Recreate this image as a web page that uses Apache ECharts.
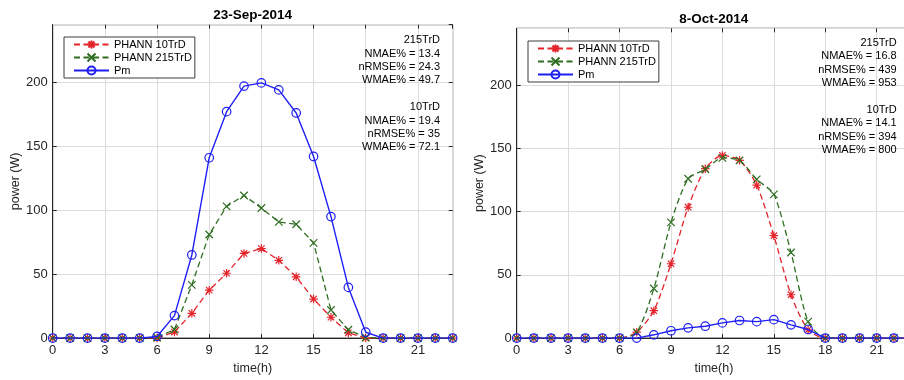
<!DOCTYPE html>
<html>
<head>
<meta charset="utf-8">
<script src="https://cdn.jsdelivr.net/npm/echarts@6/dist/echarts.min.js"></script>
<style>
  html, body { margin: 0; padding: 0; background: #fff; overflow: hidden; }
  /* canvas is slightly wider than the window so the second box runs off the right edge */
  #chart { width: 912px; height: 380px; }
</style>
</head>
<body>
<div id="chart"></div>
<script>
// Hourly time axis (h)
const hours = [0,1,2,3,4,5,6,7,8,9,10,11,12,13,14,15,16,17,18,19,20,21,22,23];

// 23-Sep-2014: forecasts and measured power (W)
const sep10TrD  = [0,0,0,0,0,0,0,4.7,19.4,37.5,50.7,66.2,70,60.8,47.9,30.5,16.3,4.1,0,0,0,0,0,0];
const sep215TrD = [0,0,0,0,0,0,0.5,6.7,41.6,81,103,111.5,101.7,90.8,89,74.5,22,6.5,0.5,0,0,0,0,0];
const sepPm     = [0,0,0,0,0,0,1.3,17.6,65,141,177,197,199.5,194,176,142,95,39.6,4.6,0,0,0,0,0];

// 8-Oct-2014: forecasts and measured power (W)
const oct10TrD  = [0,0,0,0,0,0,0,4.7,21.7,58.8,103.5,134,144.5,140.6,121,81,34.3,6.5,0,0,0,0,0,0];
const oct215TrD = [0,0,0,0,0,0,0,4.5,39.2,91.5,126,133.5,142.5,140.6,125.5,113.7,67.7,13,0,0,0,0,0,0];
const octPm     = [0,0,0,0,0,0,0,0,2.6,5.8,8.1,9.4,12,13.9,13,14.6,10.5,6.8,0,0,0,0,0,0];

// Error metrics shown in each panel
const panelTitles = ['23-Sep-2014', '8-Oct-2014'];
const seriesNames = ['PHANN 10TrD', 'PHANN 215TrD', 'Pm'];
const metricNames = ['NMAE%', 'nRMSE%', 'WMAE%'];
const sepMetrics215 = ['13.4', '24.3', '49.7'];
const sepMetrics10  = ['19.4', '35', '72.1'];
const octMetrics215 = ['16.8', '439', '953'];
const octMetrics10  = ['14.1', '394', '800'];

const FONT = '"Liberation Sans", Arial, Helvetica, sans-serif';
const RED = '#e3242b', GREEN = '#2f6e22', BLUE = '#1f1ff5', INK = '#262626';
const ASTERISK = 'path://M0,-10L0,10M-10,0L10,0M-7.5,-7.5L7.5,7.5M-7.5,7.5L7.5,-7.5';
const CROSS = 'path://M-10,-10L10,10M-10,10L10,-10';

const grids = [
  { left: 52.7, top: 24.7, width: 400, height: 316.3 },
  { left: 516.7, top: 28.3, width: 394.3, height: 312.7 }
];

function pairs(vals) { return hours.map((h, i) => [h, vals[i]]); }

function metricText(m215, m10) {
  const rows = ['215TrD'];
  metricNames.forEach((n, i) => rows.push(n + ' = ' + m215[i]));
  rows.push('');
  rows.push('10TrD');
  metricNames.forEach((n, i) => rows.push(n + ' = ' + m10[i]));
  return rows.join('\n');
}

const innerTick = { show: true, inside: true, length: 4, lineStyle: { color: INK } };
const xAxes = [], yAxes = [], series = [], legends = [], titles = [];
const panels = [
  { s10: sep10TrD, s215: sep215TrD, pm: sepPm, smooth: false },
  { s10: oct10TrD, s215: oct215TrD, pm: octPm, smooth: 0.25 }
];

panels.forEach((p, gi) => {
  // main axes
  xAxes.push({
    type: 'value', gridIndex: gi, min: 0, max: 23, interval: 3, position: 'bottom',
    name: 'time(h)', nameLocation: 'middle', nameGap: 22,
    nameTextStyle: { fontFamily: FONT, fontSize: 12.5, color: INK },
    axisLine: { show: true, onZero: false, lineStyle: { color: INK, width: 1 } },
    axisTick: innerTick,
    axisLabel: { fontFamily: FONT, fontSize: 13, color: INK, margin: 6, showMaxLabel: false },
    splitLine: { show: true, lineStyle: { color: '#dcdcdc', width: 1 } }
  });
  yAxes.push({
    type: 'value', gridIndex: gi, min: 0, max: 245, interval: 50, position: 'left',
    name: 'power (W)', nameLocation: 'middle', nameGap: 28, nameRotate: 90,
    nameTextStyle: { fontFamily: FONT, fontSize: 12.5, color: INK },
    axisLine: { show: true, onZero: false, lineStyle: { color: INK, width: 1 } },
    axisTick: innerTick,
    axisLabel: { fontFamily: FONT, fontSize: 13, color: INK, margin: 5, showMaxLabel: false },
    splitLine: { show: true, lineStyle: { color: '#dcdcdc', width: 1 } }
  });
  // mirrored tick marks on the top and right sides of the box
  xAxes.push({
    type: 'value', gridIndex: gi, min: 0, max: 23, interval: 3, position: 'top',
    axisLine: { show: false, onZero: false }, axisLabel: { show: false }, splitLine: { show: false },
    axisTick: innerTick
  });
  yAxes.push({
    type: 'value', gridIndex: gi, min: 0, max: 245, interval: 50, position: 'right',
    axisLine: { show: false, onZero: false }, axisLabel: { show: false }, splitLine: { show: false },
    axisTick: innerTick
  });

  const xi = gi * 2, yi = gi * 2;
  series.push({
    name: seriesNames[0], type: 'line', xAxisIndex: xi, yAxisIndex: yi,
    data: pairs(p.s10), smooth: p.smooth,
    symbol: ASTERISK, symbolSize: 8.5,
    itemStyle: { color: RED, borderColor: RED, borderWidth: 1.2 },
    lineStyle: { color: RED, width: 1.3, type: [6, 3.5] },
    emphasis: { disabled: true }, z: 2
  });
  series.push({
    name: seriesNames[1], type: 'line', xAxisIndex: xi, yAxisIndex: yi,
    data: pairs(p.s215), smooth: p.smooth,
    symbol: CROSS, symbolSize: 7.5,
    itemStyle: { color: GREEN, borderColor: GREEN, borderWidth: 1.2 },
    lineStyle: { color: GREEN, width: 1.3, type: [6, 3.5] },
    emphasis: { disabled: true }, z: 3
  });
  series.push({
    name: seriesNames[2], type: 'line', xAxisIndex: xi, yAxisIndex: yi,
    data: pairs(p.pm),
    symbol: 'circle', symbolSize: 8.5,
    itemStyle: { color: 'rgba(0,0,0,0)', borderColor: BLUE, borderWidth: 1.2 },
    lineStyle: { color: BLUE, width: 1.4 },
    emphasis: { disabled: true }, z: 4
  });

  legends.push({
    orient: 'vertical',
    left: gi === 0 ? 64 : 528, top: gi === 0 ? 37 : 41,
    data: seriesNames.slice(),
    itemWidth: 35, itemHeight: 10, itemGap: 2,
    padding: [2, 3, 2, 9],
    borderColor: '#3c3c3c', borderWidth: 1, borderRadius: 0,
    backgroundColor: '#ffffff',
    selectedMode: false,
    textStyle: { fontFamily: FONT, fontSize: 11, color: '#000' }
  });

  const g = grids[gi];
  titles.push({
    text: panelTitles[gi],
    left: g.left + g.width / 2, top: gi === 0 ? 8.5 : 12,
    textAlign: 'center',
    textStyle: { fontFamily: FONT, fontSize: 13.5, fontWeight: 'bold', color: '#000' },
    padding: 0
  });
});

const metricLabels = [
  { left: 440, top: 33.5, text: metricText(sepMetrics215, sepMetrics10) },
  { left: 896.7, top: 36, text: metricText(octMetrics215, octMetrics10) }
];

const chart = echarts.init(document.getElementById('chart'), null, { renderer: 'canvas' });
chart.setOption({
  animation: false,
  backgroundColor: '#ffffff',
  title: titles,
  legend: legends,
  grid: grids.map(g => Object.assign({ show: true, borderColor: INK, borderWidth: 1, backgroundColor: 'transparent', containLabel: false }, g)),
  xAxis: xAxes,
  yAxis: yAxes,
  series: series,
  graphic: metricLabels.map(m => ({
    type: 'text', x: m.left, y: m.top, z: 10,
    style: {
      text: m.text, fill: '#000', font: '11px ' + FONT,
      align: 'right', verticalAlign: 'top', lineHeight: 13.4
    }
  }))
});
</script>
</body>
</html>
